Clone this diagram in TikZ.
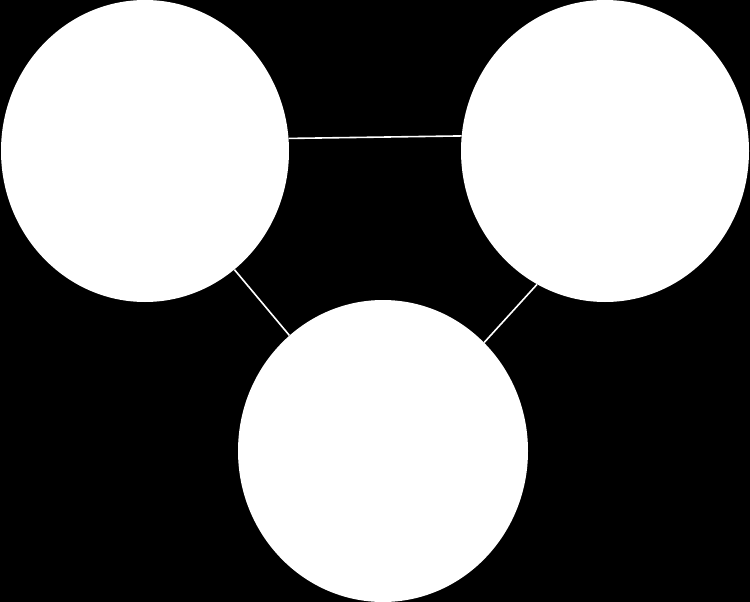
\documentclass[tikz,border=0pt]{standalone}
\usetikzlibrary{shapes.geometric}
\begin{document}
\begin{tikzpicture}[x=1pt,y=-1pt,
  blob/.style={ellipse,fill=white,draw=none,inner sep=0pt,minimum width=288pt,minimum height=302pt},
  link/.style={draw=white,line width=1.6pt}]
\fill[black] (0,0) rectangle (750,602);
\useasboundingbox (0,0) rectangle (750,602);
\node[blob] (L) at (145,151) {};
\node[blob] (R) at (605,151) {};
\node[blob,minimum width=290pt] (B) at (383,451) {};
\draw[link] (L.5.2) -- (R.174.8);
\draw[link] (L.-53.7) -- (B.129.8);
\draw[link] (R.243.9) -- (B.47.5);
\end{tikzpicture}
\end{document}
